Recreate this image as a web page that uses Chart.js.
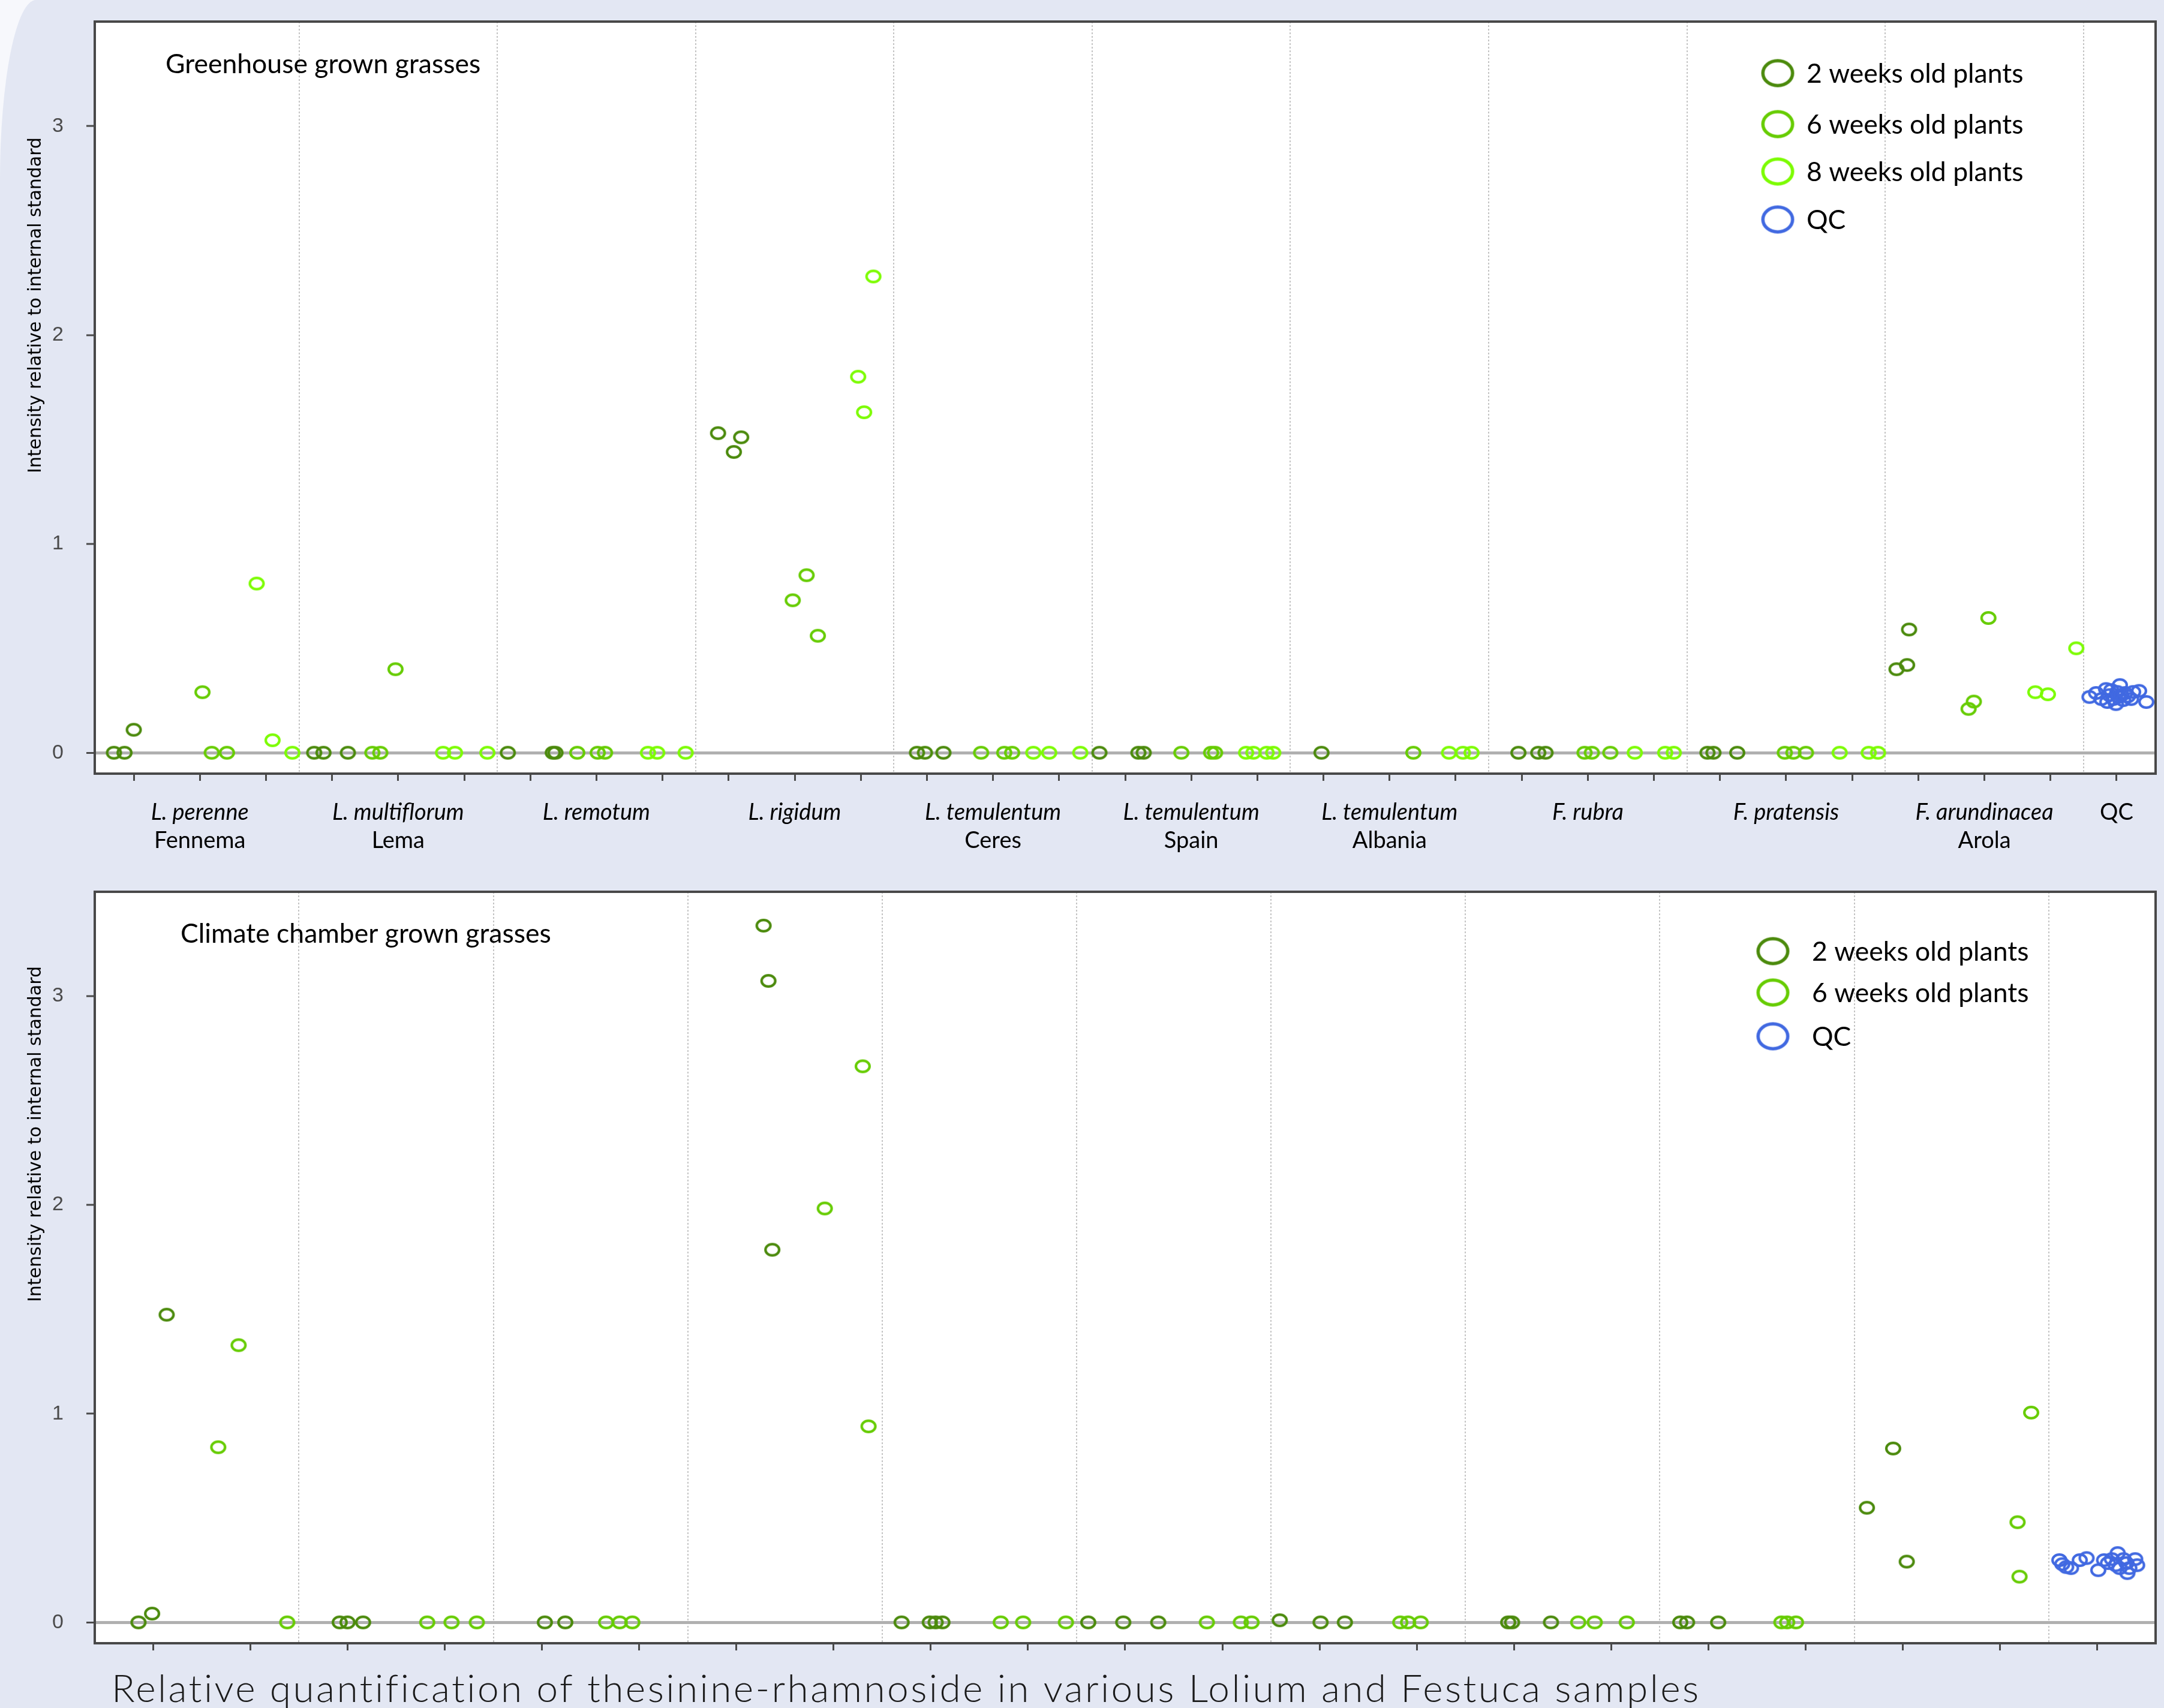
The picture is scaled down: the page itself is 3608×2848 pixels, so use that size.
<!DOCTYPE html>
<html>
<head>
<meta charset="utf-8">
<script src="https://cdn.jsdelivr.net/npm/chart.js@4.4.1/dist/chart.umd.min.js"></script>
<style>
  html, body { margin: 0; padding: 0; background: #f7f8fc; }
  body { width: 3608px; height: 2848px; position: relative; overflow: hidden; }
  #slide { position: absolute; left: 0; top: 0; width: 3608px; height: 2848px;
           background: #e3e7f3; border-top-left-radius: 60px 300px; }
  canvas { position: absolute; left: 0; }
  #greenhouse { top: 0; }
  #chamber { top: 1460px; }
</style>
</head>
<body>
<div id="slide"></div>
<canvas id="greenhouse" width="3608" height="1460"></canvas>
<canvas id="chamber" width="3608" height="1388"></canvas>
<script>
// ---------------------------------------------------------------
// Data: x = sample position on the axis (tick index + spread within
// the group), y = intensity relative to the internal standard.
// ---------------------------------------------------------------

// Greenhouse panel categories (labelled at the middle tick of each group)
const ghLabelTicks = [1, 4, 7, 10, 13, 16, 19, 22, 25, 28, 30];
const ghSpecies = ['L. perenne', 'L. multiflorum', 'L. remotum', 'L. rigidum',
  'L. temulentum', 'L. temulentum', 'L. temulentum', 'F. rubra', 'F. pratensis',
  'F. arundinacea', 'QC'];
const ghCultivar = ['Fennema', 'Lema', '', '', 'Ceres', 'Spain', 'Albania', '', '', 'Arola', ''];
const ghSeparators = [2.5, 5.5, 8.5, 11.5, 14.5, 17.5, 20.5, 23.5, 26.5, 29.5];

const gh2weeks = [
  [-0.30, 0], [-0.14, 0], [0.00, 0.11],
  [2.73, 0], [2.87, 0], [3.24, 0],
  [5.66, 0], [6.34, 0], [6.38, 0],
  [8.84, 1.53], [9.08, 1.44], [9.19, 1.51],
  [11.85, 0], [11.97, 0], [12.25, 0],
  [14.61, 0], [15.20, 0], [15.28, 0],
  [17.97, 0],
  [20.95, 0], [21.25, 0], [21.36, 0],
  [23.81, 0], [23.90, 0], [24.26, 0],
  [26.67, 0.40], [26.83, 0.42], [26.86, 0.59]
];
const gh6weeks = [
  [1.04, 0.29], [1.18, 0], [1.41, 0],
  [3.61, 0], [3.73, 0], [3.96, 0.40],
  [6.71, 0], [7.02, 0], [7.13, 0],
  [9.97, 0.73], [10.18, 0.85], [10.35, 0.56],
  [12.82, 0], [13.17, 0], [13.29, 0],
  [15.85, 0], [16.30, 0], [16.36, 0],
  [19.36, 0],
  [21.95, 0], [22.06, 0], [22.34, 0],
  [24.98, 0], [25.11, 0], [25.30, 0],
  [27.76, 0.21], [27.84, 0.245], [28.06, 0.645]
];
const gh8weeks = [
  [1.86, 0.81], [2.10, 0.06], [2.40, 0],
  [4.68, 0], [4.86, 0], [5.35, 0],
  [7.78, 0], [7.92, 0], [8.35, 0],
  [10.96, 1.80], [11.05, 1.63], [11.19, 2.28],
  [13.61, 0], [13.85, 0], [14.32, 0],
  [16.83, 0], [16.94, 0], [17.14, 0], [17.24, 0],
  [19.90, 0], [20.11, 0], [20.24, 0],
  [22.71, 0], [23.17, 0], [23.30, 0],
  [25.81, 0], [26.25, 0], [26.39, 0],
  [28.77, 0.29], [28.96, 0.28], [29.39, 0.50]
];
const ghQC = [
  [29.59, 0.267], [29.69, 0.286], [29.77, 0.257], [29.84, 0.305], [29.86, 0.243],
  [29.89, 0.276], [29.92, 0.300], [29.95, 0.257], [29.99, 0.233], [30.01, 0.291],
  [30.03, 0.267], [30.05, 0.324], [30.07, 0.275], [30.10, 0.252], [30.13, 0.286],
  [30.17, 0.270], [30.22, 0.257], [30.25, 0.291], [30.34, 0.296], [30.45, 0.243]
];

// Climate chamber panel
const ccSeparators = [1.5, 3.5, 5.5, 7.5, 9.5, 11.5, 13.5, 15.5, 17.5, 19.5];

const cc2weeks = [
  [-0.15, 0], [-0.01, 0.042], [0.14, 1.474],
  [1.92, 0], [2.00, 0], [2.16, 0],
  [4.03, 0], [4.24, 0],
  [6.28, 3.338], [6.33, 3.073], [6.37, 1.785],
  [7.70, 0], [7.99, 0], [8.05, 0], [8.12, 0],
  [9.62, 0], [9.98, 0], [10.34, 0],
  [11.59, 0.01], [12.01, 0], [12.26, 0],
  [13.94, 0], [13.98, 0], [14.38, 0],
  [15.71, 0], [15.78, 0], [16.10, 0],
  [17.63, 0.549], [17.90, 0.833], [18.04, 0.291]
];
const cc6weeks = [
  [0.67, 0.839], [0.88, 1.328], [1.38, 0],
  [2.82, 0], [3.07, 0], [3.33, 0],
  [4.66, 0], [4.80, 0], [4.93, 0],
  [6.91, 1.983], [7.30, 2.664], [7.36, 0.939],
  [8.72, 0], [8.95, 0], [9.39, 0],
  [10.84, 0], [11.19, 0], [11.30, 0],
  [12.83, 0], [12.91, 0], [13.04, 0],
  [14.66, 0], [14.83, 0], [15.16, 0],
  [16.75, 0], [16.81, 0], [16.90, 0],
  [19.18, 0.48], [19.20, 0.219], [19.32, 1.005]
];
const ccQC = [
  [19.61, 0.298], [19.64, 0.279], [19.68, 0.265], [19.73, 0.260], [19.82, 0.298],
  [19.89, 0.308], [20.01, 0.250], [20.07, 0.298], [20.11, 0.284], [20.15, 0.303],
  [20.19, 0.274], [20.21, 0.332], [20.23, 0.260], [20.27, 0.303], [20.30, 0.284],
  [20.31, 0.236], [20.33, 0.260], [20.39, 0.303], [20.41, 0.274]
];

const yTicks = [0, 1, 2, 3];
const seriesNames = ['2 weeks old plants', '6 weeks old plants', '8 weeks old plants', 'QC'];
const yTitleText = 'Intensity relative to internal standard';
const footTitle = 'Relative quantification of thesinine-rhamnoside in various Lolium and Festuca samples';

// ---------------------------------------------------------------
// Styling helpers
// ---------------------------------------------------------------
const COLORS = { w2: '#4b8a0c', w6: '#66cc00', w8: '#7cfc00', qc: '#4169e1' };

// open elliptical ring used as point marker
function ring(color, w, h, lw) {
  const c = document.createElement('canvas');
  c.width = w + 2; c.height = h + 2;
  const g = c.getContext('2d');
  g.strokeStyle = color;
  g.lineWidth = lw;
  g.beginPath();
  g.ellipse(c.width / 2, c.height / 2, (w - lw) / 2, (h - lw) / 2, 0, 0, Math.PI * 2);
  g.stroke();
  return c;
}
const MARK = {}, LEGEND_MARK = {};
for (const k of Object.keys(COLORS)) {
  MARK[k] = ring(COLORS[k], 27, 23, 4.2);
  LEGEND_MARK[k] = ring(COLORS[k], 55, 47, 5.5);
}

const range = (a, b) => { const r = []; for (let i = a; i <= b; i++) r.push(i); return r; };
const toXY = arr => arr.map(([x, y]) => ({ x, y }));

function dataset(label, key, arr) {
  return {
    label, data: toXY(arr), key,
    pointStyle: MARK[key], pointRadius: 13, pointHoverRadius: 13,
    showLine: false, xAxisID: 'x', yAxisID: 'y'
  };
}

// white plot background
const plotBg = {
  id: 'plotBg',
  beforeDraw(chart) {
    const { ctx, chartArea: a } = chart;
    ctx.save();
    ctx.fillStyle = '#ffffff';
    ctx.fillRect(a.left, a.top, a.right - a.left, a.bottom - a.top);
    ctx.restore();
  }
};

// frame, captions, legend, axis title and group labels
const decor = {
  id: 'decor',
  afterDraw(chart, args, o) {
    const { ctx, chartArea: a } = chart;
    ctx.save();
    ctx.strokeStyle = '#484848';
    ctx.lineWidth = 4;
    ctx.strokeRect(a.left, a.top, a.right - a.left, a.bottom - a.top);

    ctx.fillStyle = '#000';
    ctx.textAlign = 'left';
    ctx.textBaseline = 'alphabetic';
    ctx.font = '44.5px Lato';
    ctx.fillText(o.caption, o.captionX, o.captionY);

    // legend
    chart.data.datasets.forEach((ds, i) => {
      const m = LEGEND_MARK[ds.key];
      const y = o.legendRows[i];
      ctx.drawImage(m, o.legendX - m.width / 2, y - m.height / 2);
      ctx.font = '44.5px Lato';
      ctx.fillText(ds.label, o.legendTextX, y + 16);
    });

    // y axis title
    ctx.save();
    ctx.translate(o.yTitleX, o.yTitleY);
    ctx.rotate(-Math.PI / 2);
    ctx.textAlign = 'center';
    ctx.textBaseline = 'middle';
    ctx.font = '30px "DejaVu Sans"';
    ctx.fillText(yTitleText, 0, 0);
    ctx.restore();

    // group labels under the x axis
    if (o.species) {
      const sx = chart.scales.x;
      ctx.textAlign = 'center';
      o.ticksAt.forEach((t, i) => {
        const px = sx.getPixelForValue(t);
        const name = o.species[i];
        ctx.font = (name === 'QC' ? '' : 'italic ') + '38px Lato';
        ctx.fillText(name, px, o.line1Y);
        if (o.cultivar[i]) {
          ctx.font = '38px Lato';
          ctx.fillText(o.cultivar[i], px, o.line2Y);
        }
      });
    }

    if (o.footer) {
      ctx.textAlign = 'left';
      ctx.fillStyle = '#1a1a1a';
      ctx.font = '300 64px Lato';
      ctx.letterSpacing = '3.4px';
      ctx.fillText(o.footer, o.footerX, o.footerY);
      ctx.letterSpacing = '0px';
    }
    ctx.restore();
  }
};

function scalesFor(xMin, xMax, lastTick, separators, axisHeight) {
  return {
    x: {
      type: 'linear', position: 'bottom', min: xMin, max: xMax, weight: 1,
      afterBuildTicks: ax => { ax.ticks = range(0, lastTick).map(v => ({ value: v })); },
      ticks: { display: false },
      grid: { drawOnChartArea: false, drawTicks: true, tickLength: 12, tickWidth: 3, tickColor: '#4a4a4a' },
      border: { display: false },
      afterFit: s => { s.height = axisHeight; s.paddingLeft = 0; s.paddingRight = 0; }
    },
    xs: {
      type: 'linear', position: 'bottom', min: xMin, max: xMax, weight: 0,
      afterBuildTicks: ax => { ax.ticks = separators.map(v => ({ value: v })); },
      ticks: { display: false },
      grid: { drawOnChartArea: true, drawTicks: false, color: '#c4c4c4', lineWidth: 2 },
      border: { display: false, dash: [3, 3] },
      afterFit: s => { s.height = 0; s.paddingLeft = 0; s.paddingRight = 0; }
    },
    y: {
      type: 'linear', position: 'left', min: -0.1, max: 3.5,
      afterBuildTicks: ax => { ax.ticks = yTicks.map(v => ({ value: v })); },
      ticks: { padding: 38, color: '#4a4a4a', font: { family: '"Liberation Sans", Arial, sans-serif', size: 34 } },
      grid: {
        color: c => (c.tick && c.tick.value === 0) ? '#b0b0b0' : 'rgba(0,0,0,0)',
        lineWidth: c => (c.tick && c.tick.value === 0) ? 5 : 0,
        drawTicks: true, tickLength: 14, tickWidth: 3, tickColor: '#4a4a4a'
      },
      border: { display: false },
      afterFit: s => { s.width = 158; s.paddingTop = 0; s.paddingBottom = 0; }
    }
  };
}

const common = {
  responsive: false, animation: false, devicePixelRatio: 1, events: [],
};

new Chart(document.getElementById('greenhouse'), {
  type: 'scatter',
  data: {
    datasets: [
      dataset(seriesNames[0], 'w2', gh2weeks),
      dataset(seriesNames[1], 'w6', gh6weeks),
      dataset(seriesNames[2], 'w8', gh8weeks),
      dataset(seriesNames[3], 'qc', ghQC)
    ]
  },
  options: Object.assign({}, common, {
    layout: { padding: { left: 0, right: 10, top: 36, bottom: 0 } },
    scales: scalesFor(-0.59, 30.59, 30, ghSeparators, 170),
    plugins: {
      legend: { display: false }, tooltip: { enabled: false },
      decor: {
        caption: 'Greenhouse grown grasses', captionX: 276, captionY: 122,
        legendX: 2964, legendTextX: 3012, legendRows: [122, 207, 286, 366],
        yTitleX: 60, yTitleY: 509,
        species: ghSpecies, cultivar: ghCultivar, ticksAt: ghLabelTicks,
        line1Y: 1367, line2Y: 1414
      }
    }
  }),
  plugins: [plotBg, decor]
});

new Chart(document.getElementById('chamber'), {
  type: 'scatter',
  data: {
    datasets: [
      dataset(seriesNames[0], 'w2', cc2weeks),
      dataset(seriesNames[1], 'w6', cc6weeks),
      dataset(seriesNames[3], 'qc', ccQC)
    ]
  },
  options: Object.assign({}, common, {
    layout: { padding: { left: 0, right: 10, top: 27, bottom: 0 } },
    scales: scalesFor(-0.6, 20.6, 20, ccSeparators, 108),
    plugins: {
      legend: { display: false }, tooltip: { enabled: false },
      decor: {
        caption: 'Climate chamber grown grasses', captionX: 301, captionY: 112,
        legendX: 2956, legendTextX: 3021, legendRows: [126, 195, 268],
        yTitleX: 60, yTitleY: 431,
        footer: footTitle, footerX: 186, footerY: 1378
      }
    }
  }),
  plugins: [plotBg, decor]
});
</script>
</body>
</html>
